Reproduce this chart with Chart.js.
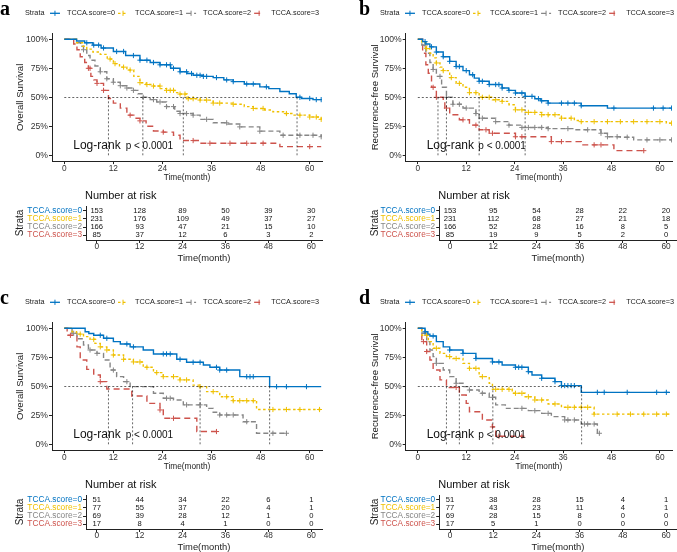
<!DOCTYPE html>
<html>
<head>
<meta charset="utf-8">
<script src="https://cdn.jsdelivr.net/npm/chart.js@4.4.0/dist/chart.umd.min.js"></script>
<style>
  html, body { margin: 0; padding: 0; background: #fff; overflow: hidden; }
  #wrap { position: relative; width: 677px; height: 552px; overflow: hidden; }
  canvas { position: absolute; }
</style>
</head>
<body>
<div id="wrap">
  <canvas id="kmA" width="337" height="185" style="left:0;top:0"></canvas>
  <canvas id="tabA" width="337" height="80" style="left:0;top:185px"></canvas>
  <canvas id="kmB" width="340" height="185" style="left:337px;top:0"></canvas>
  <canvas id="tabB" width="340" height="80" style="left:337px;top:185px"></canvas>
  <canvas id="kmC" width="337" height="185" style="left:0;top:289px"></canvas>
  <canvas id="tabC" width="337" height="80" style="left:0;top:474px"></canvas>
  <canvas id="kmD" width="340" height="185" style="left:337px;top:289px"></canvas>
  <canvas id="tabD" width="340" height="80" style="left:337px;top:474px"></canvas>
</div>
<script>
// ---- shared labels ----
const strata = ['TCCA.score=0', 'TCCA.score=1', 'TCCA.score=2', 'TCCA.score=3'];
const xTicks = [0, 12, 24, 36, 48, 60];
const yTicks = [0, 25, 50, 75, 100];

// ---- panel a: overall survival (training) ----
const a0t = [0, 3, 5, 7, 9, 12, 15, 18.5, 21, 23.4, 26, 28.3, 30, 31.5, 34, 36.4, 39, 41.3, 44, 47.8, 50, 52.7, 55, 56.7, 58, 60.8, 62.8];
const a0s = [100, 98.5, 97, 95, 92.5, 89.5, 86, 82, 80, 78, 75, 72, 70.5, 69, 68, 67, 65, 63.5, 61.5, 59, 57.5, 55, 53, 50, 49, 48, 48];
const a1t = [0, 3, 4.5, 5.5, 7, 8.8, 10.5, 12, 13.5, 15.3, 17, 18.5, 20, 21.8, 23.5, 25, 27, 28.3, 30, 33.2, 36.4, 41.3, 44, 46.2, 49, 51, 54, 56, 60, 62.8];
const a1s = [100, 97, 94, 91.5, 89, 87, 83, 79, 76, 73.5, 68, 62.6, 61, 59.7, 57.5, 56, 54, 52.8, 48.8, 47.6, 45, 44, 42, 40.4, 39, 37.5, 36, 34.6, 33, 31];
const a2t = [0, 3, 4, 4.7, 5.5, 6.3, 7.5, 8.8, 10.4, 12, 13.7, 15.3, 16.9, 18, 19.3, 21, 22.6, 25, 27, 28.3, 31.5, 33.2, 36.4, 40, 42.9, 47.8, 52.7, 62.8];
const a2s = [100, 97, 94, 91, 86, 82, 77, 72, 66, 63, 60, 58, 56, 53, 50, 48, 46, 42, 38, 36, 34.6, 31, 28, 27, 24.5, 20.8, 17.3, 16];
const a3t = [0, 2.3, 3.1, 3.9, 5, 5.9, 6.5, 7.2, 8, 9.6, 10.8, 12, 13.7, 15.3, 17, 18.5, 20, 21.8, 24.2, 26.7, 28.3, 33.2, 52.7, 62.8];
const a3s = [100, 96, 91, 85, 80, 75, 68, 65, 62, 56, 49, 45, 40.7, 34.6, 32, 29.7, 25, 21, 20, 17.3, 12.7, 10.4, 7.5, 7.5];
const a0c = [5.5, 7.2, 8.4, 9.6, 12.8, 14.5, 16.9, 18.5, 20.2, 21.8, 23.4, 25, 25.9, 26.7, 28.3, 29.9, 31.1, 32.4, 33.2, 34, 34.8, 37.2, 39.7, 41.3, 44.6, 46.2, 49.4, 57.6, 60, 61.6, 62.8];
const a1c = [11.2, 12.4, 14.5, 16.1, 18.5, 20.2, 21.8, 23.4, 25, 25.9, 26.7, 28.3, 29.5, 30.3, 31.5, 33.2, 34.8, 36.4, 38, 41.3, 46.2, 48.6, 54.3, 57.6, 60, 61.6, 62.8];
const a2c = [4.7, 8.8, 10.4, 12, 13.7, 15.3, 16.9, 19.3, 21.8, 23.4, 25, 26.7, 28.3, 29.9, 31.5, 34.8, 39.7, 42.9, 47.8, 53.5, 57.6, 60.8, 62.8];
const a3c = [5.9, 6.3, 8, 9.6, 16.1, 18.5, 24.2, 31.5, 35.6, 40.5, 44.6, 48.6, 60];
const aMedians = [10.8, 19.2, 29.1, 56.9];
const riskA = [[153, 128, 89, 50, 39, 30], [231, 176, 109, 49, 37, 27], [166, 93, 47, 21, 15, 10], [85, 37, 12, 6, 3, 2]];

// ---- panel b: recurrence-free survival (training) ----
const b0t = [0, 1.2, 2, 3, 4.6, 6.3, 7.9, 9.5, 11.2, 12.8, 14, 15.2, 17.7, 20.9, 22.5, 24.2, 26.6, 29, 30.5, 32.3, 40.5, 47, 63.3];
const b0s = [100, 98, 96, 93.5, 89, 85, 81, 76.5, 73, 69.5, 66.5, 63.8, 61, 58, 56, 53.7, 50.8, 48.8, 47, 45, 42.7, 40.7, 40.7];
const b1t = [0, 1, 2, 3, 3.8, 4.6, 5.5, 6.3, 7.9, 9.5, 11.2, 12.8, 15.2, 18.5, 20.9, 22.6, 24.2, 26.6, 30.7, 35.6, 38.8, 40.5, 61.6, 63.3];
const b1s = [100, 97, 92, 88, 84, 79.6, 76, 73, 67, 62, 58.6, 54, 50, 47.9, 46.5, 43.6, 39.2, 37, 35, 32, 30, 29, 27.7, 27.7];
const b2t = [0, 1, 2, 3, 3.8, 4.6, 5.9, 7.1, 8.7, 11.2, 14.4, 15.2, 19.3, 22.6, 25.8, 32.3, 38.8, 45.4, 47, 50.2, 53.5, 63.3];
const b2s = [100, 95, 88, 80, 74, 68, 58.6, 50, 44, 40.7, 36, 32, 29, 26, 24, 23, 22, 19, 16, 15.6, 13.3, 13.3];
const b3t = [0, 1.2, 2, 2.6, 3.4, 4.6, 6.3, 6.7, 7.9, 10.3, 12.8, 15.2, 17.7, 24.2, 33.1, 40.5, 48.6, 56];
const b3s = [100, 88, 78, 70.7, 58.6, 50, 46.5, 40.7, 35, 30.6, 26, 22, 19, 16, 11.8, 9, 4, 4];
const b0c = [1.8, 3.4, 4.6, 6.3, 7.9, 9.5, 10.3, 12, 13.6, 15.2, 16, 17.7, 19.3, 20.1, 20.9, 22.6, 24.2, 25.8, 26.6, 28.3, 29.9, 30.7, 32.3, 35.6, 37.2, 38.8, 40.5, 48.6, 58.4, 60.8, 62.9];
const b1c = [2.2, 4.6, 6.3, 8.3, 10.3, 12.8, 14.4, 16, 17.7, 19.3, 20.9, 24.2, 25.8, 27.4, 29, 30.7, 32.3, 34, 35.6, 38, 40.5, 43.7, 47, 50.2, 53.5, 56.8, 60, 62.9];
const b2c = [1.8, 3.8, 5.5, 7.1, 8.7, 10.3, 12, 14.4, 16, 19.3, 22.6, 25.8, 27.4, 29, 30.7, 32.3, 37.2, 42.1, 45.4, 47, 49.4, 51.9, 56.8, 60, 62.9];
const b3c = [3.8, 4.6, 7.1, 11.2, 14.4, 16.9, 18.5, 24.2, 25.8, 33.1, 35.6, 43.7, 45.4, 56];
const bMedians = [5.0, 7.1, 15.2, 26.6];
const riskB = [[153, 95, 54, 28, 22, 20], [231, 112, 68, 27, 21, 18], [166, 52, 28, 16, 8, 5], [85, 19, 9, 5, 2, 0]];

// ---- panel c: overall survival (validation) ----
const c0t = [0, 5.1, 6, 7.2, 9.6, 12, 13.7, 16.1, 19.3, 21.8, 27.5, 29.9, 34, 35.6, 38, 42.9, 50.2, 62.8];
const c0s = [100, 97, 95.5, 94, 91.4, 88.5, 86.5, 84, 81.3, 77.9, 73.3, 70.7, 68.4, 66.4, 64, 58.3, 49.7, 49.7];
const c1t = [0, 1.9, 3, 4.7, 6.3, 7.5, 8.8, 10.4, 12, 14.5, 16.9, 19.3, 21.8, 24.2, 28.3, 31.5, 33.2, 34.8, 38, 41.3, 47, 62.8];
const c1s = [100, 97, 95, 92.8, 90.5, 87, 84, 81.3, 77, 73.3, 71, 66.4, 61.8, 58.3, 55.5, 51, 49.7, 45.4, 41, 37.6, 30, 30];
const c2t = [0, 1.9, 3.1, 4.7, 5.9, 8, 9.6, 11.2, 12.8, 14.5, 16.1, 21.8, 24.2, 26.7, 29.1, 34.8, 36.4, 38, 43.7, 47, 54.3];
const c2s = [100, 95.7, 91, 85.6, 81.3, 78.4, 72.7, 64, 58.3, 54, 49.7, 44, 39.7, 38.2, 34, 31, 27.6, 25.3, 19.5, 9.5, 9.5];
const c3t = [0, 0.7, 3.1, 3.9, 5.5, 7.2, 8.8, 10.4, 16.5, 20.2, 23.4, 24.2, 32.4, 38];
const c3s = [100, 94, 84, 72.7, 64.6, 59.8, 54, 47.7, 41.7, 35.3, 29.6, 22.4, 11, 11];
const c0c = [8.8, 10.4, 15.3, 16.9, 24.2, 25, 25.9, 28.3, 31.5, 33.2, 37.2, 38, 39.7, 44.6, 45.4, 46.2, 51.9, 54.3, 59.2];
const c1c = [3.9, 7.2, 8.8, 10.4, 12, 14.5, 16.9, 18.5, 20.2, 22.6, 24.2, 26.7, 28.3, 29.9, 33.2, 36.4, 39.7, 41.3, 42.9, 44.6, 46.2, 51, 54.3, 57.6, 62.4];
const c2c = [2.3, 6.3, 8, 12, 15.3, 25, 25.9, 29.9, 33.2, 38, 39.7, 41.3, 44.6, 51, 54.3];
const c3c = [1.5, 8.8, 23.4, 26.7, 37.2];
const cMedians = [10.8, 16.7, 33.2, 50.2];
const riskC = [[51, 44, 34, 22, 6, 1], [77, 55, 37, 20, 4, 1], [69, 39, 28, 12, 1, 0], [17, 8, 4, 1, 0, 0]];

// ---- panel d: recurrence-free survival (validation) ----
const d0t = [0, 1.8, 2.5, 3, 4.6, 6.3, 7.9, 11.2, 14.4, 18.5, 20.9, 24.2, 27.4, 28.3, 30.7, 34, 35.6, 40.5, 62.5];
const d0s = [100, 97, 95, 93.4, 88.5, 84, 81.3, 78.4, 74, 71, 68.4, 66.4, 62.6, 59.8, 56.9, 54, 50.6, 44.8, 44.8];
const d1t = [0, 1, 2.6, 3.8, 5.5, 7.1, 8.7, 11.2, 12.8, 15.2, 17.7, 18.5, 23.4, 26.6, 29, 32.3, 35.6, 43.7, 62.9];
const d1s = [100, 94, 88.5, 82.8, 78.4, 75.6, 74, 69.8, 65.5, 58.3, 52.6, 47.4, 44, 41, 38.2, 34.8, 31.9, 26, 26];
const d2t = [0, 1, 2.2, 3, 3.8, 4.6, 6.3, 7.9, 9.5, 11.2, 12.8, 15.2, 17.7, 19.3, 21.7, 27.4, 30.7, 33.1, 36.4, 40.5, 44.5, 45];
const d2s = [100, 95.7, 88.5, 81.3, 75.6, 69.8, 64, 58.3, 52.6, 49.7, 46.8, 44, 40.5, 34, 31, 29, 26.7, 23.9, 21, 17.5, 9.5, 9.5];
const d3t = [0, 1, 2.2, 3, 3.8, 5.5, 7.1, 10.3, 12, 12.8, 16, 18.5, 19.3, 26.2];
const d3s = [100, 88.5, 80, 72.7, 64, 55.5, 49, 42.5, 35.3, 28, 21, 15, 7, 7];
const d0c = [1.8, 3.8, 7.9, 11.2, 14.4, 18.5, 20.1, 24.2, 25, 25.8, 27.4, 30.7, 34, 35.6, 36.4, 37.2, 38, 38.8, 44.5, 46.2, 51.9, 59.2, 61.6];
const d1c = [2.2, 4.6, 7.9, 9.5, 12.8, 14.4, 16, 19.3, 20.9, 22.6, 24.2, 25.8, 27.4, 29, 30.7, 34, 37.2, 38.8, 40.5, 42.1, 43.7, 49.4, 52.7, 56, 59.2, 61.6];
const d2c = [1.8, 4.6, 9.5, 12.8, 16, 18.5, 25.8, 29, 32.3, 36.4, 37.2, 38.8, 41.3, 42.1, 43.7, 45];
const d3c = [1.4, 2.2, 9.5, 18.5, 20.1, 25.8];
const dMedians = [7.1, 10.3, 18.6, 40.6];
const riskD = [[51, 38, 28, 15, 4, 1], [77, 43, 23, 11, 4, 1], [69, 28, 15, 8, 0, 0], [17, 5, 1, 0, 0, 0]];

// ---- styling ----
const FONT = "'Liberation Sans', Arial, sans-serif";
const COLORS = ['#0073C2', '#EFC000', '#868686', '#CD534C'];
const DASHES = [[], [2.5, 2.5], [5, 3], [6, 4]];
const INK = '#222';

// survival value of a step curve at time x (for placing censor ticks on the curve)
function survAt(t, s, x) {
  let v = s[0];
  for (let i = 0; i < t.length; i++) if (t[i] <= x) v = s[i];
  return v;
}

const kmDecor = {
  id: 'kmDecor',
  afterDraw(chart, args, o) {
    const ctx = chart.ctx;
    ctx.save();
    // panel letter
    ctx.fillStyle = '#000';
    ctx.font = "bold 20px 'Liberation Serif', 'Times New Roman', serif";
    ctx.textBaseline = 'alphabetic';
    ctx.textAlign = 'left';
    ctx.fillText(o.letter, o.letterX, 14.5);
    // legend
    ctx.font = '7.3px ' + FONT;
    ctx.textBaseline = 'middle';
    ctx.fillStyle = INK;
    let x = o.legendX;
    const ly = 13.3;
    ctx.fillText('Strata', x, ly);
    x += ctx.measureText('Strata').width + 5.5;
    for (let i = 0; i < 4; i++) {
      ctx.strokeStyle = COLORS[i];
      ctx.lineWidth = 1.3;
      ctx.setLineDash(DASHES[i]);
      ctx.beginPath(); ctx.moveTo(x, ly); ctx.lineTo(x + 10, ly); ctx.stroke();
      ctx.setLineDash([]);
      ctx.lineWidth = 1;
      ctx.beginPath(); ctx.moveTo(x + 5, ly - 2.6); ctx.lineTo(x + 5, ly + 2.6); ctx.stroke();
      x += 17;
      ctx.fillStyle = INK;
      ctx.fillText(strata[i], x, ly);
      x += ctx.measureText(strata[i]).width + 3;
    }
    // log-rank annotation, placed in data units
    const xs = chart.scales.x, ys = chart.scales.y;
    ctx.textBaseline = 'alphabetic';
    ctx.fillStyle = '#111';
    ctx.font = '12px ' + FONT;
    ctx.fillText('Log-rank', xs.getPixelForValue(2.2), ys.getPixelForValue(5.5));
    ctx.font = '10px ' + FONT;
    ctx.fillText('p < 0.0001', xs.getPixelForValue(15), ys.getPixelForValue(5.5));
    ctx.restore();
  }
};

function medianSeg(xv, yv) {
  return {
    data: [{ x: xv[0], y: yv[0] }, { x: xv[1], y: yv[1] }],
    borderColor: '#000', borderWidth: 0.6, borderDash: [2, 2], pointRadius: 0
  };
}

function buildKM(id, p) {
  const ds = [];
  const mMax = Math.max(...p.medians);
  ds.push(medianSeg([0, mMax], [50, 50]));
  p.medians.forEach(m => ds.push(medianSeg([m, m], [50, 0])));
  for (let i = 0; i < 4; i++) {
    const t = p.times[i], s = p.survs[i];
    ds.push({
      data: t.map((x, j) => ({ x: x, y: s[j] })),
      borderColor: COLORS[i], borderWidth: 1.4, borderDash: DASHES[i],
      stepped: 'before', pointRadius: 0
    });
    ds.push({
      data: p.cens[i].map(x => ({ x: x, y: survAt(t, s, x) })),
      showLine: false, pointStyle: 'cross', pointRadius: 2.6,
      borderColor: COLORS[i], pointBorderColor: COLORS[i], pointBorderWidth: 1
    });
  }
  new Chart(document.getElementById(id), {
    type: 'line',
    data: { datasets: ds },
    options: {
      responsive: false,
      animation: false,
      layout: { padding: { top: 33.5, left: 0, right: p.padR, bottom: 0 } },
      plugins: {
        legend: { display: false },
        tooltip: { enabled: false },
        kmDecor: { letter: p.letter, letterX: p.letterX, legendX: p.legendX }
      },
      scales: {
        x: {
          type: 'linear', min: -3, max: 63,
          afterBuildTicks: s => { s.ticks = xTicks.map(v => ({ value: v })); },
          afterFit: s => { s.height = 23.9; },
          grid: { drawOnChartArea: false, tickLength: 3, color: INK },
          border: { color: INK, width: 1 },
          ticks: { font: { family: FONT, size: 8.3, lineHeight: 1 }, color: '#333', padding: 0, maxRotation: 0, autoSkip: false },
          title: { display: true, text: 'Time(month)', font: { family: FONT, size: 8.3 }, color: INK, padding: { top: 0, bottom: 2 } }
        },
        y: {
          type: 'linear', min: -5, max: 105,
          afterBuildTicks: s => { s.ticks = yTicks.map(v => ({ value: v })); },
          afterFit: s => { s.width = p.leftW; },
          grid: { drawOnChartArea: false, tickLength: 3, color: INK },
          border: { color: INK, width: 1 },
          ticks: { font: { family: FONT, size: 8.6 }, color: '#333', padding: 1, autoSkip: false, callback: v => v + '%' },
          title: { display: true, text: p.yTitle, font: { family: FONT, size: 9.6 }, color: INK, padding: { top: p.titlePad } }
        }
      }
    },
    plugins: [kmDecor]
  });
}

const riskText = {
  id: 'riskText',
  afterDraw(chart, args, o) {
    const ctx = chart.ctx, xs = chart.scales.x, ys = chart.scales.y, ca = chart.chartArea;
    ctx.save();
    ctx.fillStyle = '#111';
    ctx.font = '11px ' + FONT;
    ctx.textBaseline = 'middle';
    ctx.textAlign = 'left';
    ctx.fillText('Number at risk', ca.left - 1, ca.top - 10);
    ctx.font = '7.6px ' + FONT;
    ctx.textAlign = 'center';
    chart.data.datasets[0].data.forEach(d => {
      ctx.fillText(String(d.n), xs.getPixelForValue(d.x), ys.getPixelForValue(d.y));
    });
    ctx.restore();
  }
};

function buildRisk(id, risk, leftW, padR, titlePad) {
  const pts = [];
  risk.forEach((row, r) => row.forEach((n, k) => pts.push({ x: xTicks[k], y: r + 1, n: n })));
  new Chart(document.getElementById(id), {
    type: 'scatter',
    data: { datasets: [{ data: pts, pointRadius: 0 }] },
    options: {
      responsive: false,
      animation: false,
      layout: { padding: { top: 21, left: 0, right: padR, bottom: 0 } },
      plugins: { legend: { display: false }, tooltip: { enabled: false } },
      scales: {
        x: {
          type: 'linear', min: -3, max: 63,
          afterBuildTicks: s => { s.ticks = xTicks.map(v => ({ value: v })); },
          afterFit: s => { s.height = 25; },
          grid: { drawOnChartArea: false, tickLength: 3, color: INK },
          border: { color: INK, width: 1 },
          ticks: { font: { family: FONT, size: 8.3, lineHeight: 1 }, color: '#333', padding: 0, maxRotation: 0, autoSkip: false },
          title: { display: true, text: 'Time(month)', font: { family: FONT, size: 9.4 }, color: INK, padding: { top: 0, bottom: 1.4 } }
        },
        y: {
          type: 'linear', reverse: true, min: 0.4, max: 4.6,
          afterBuildTicks: s => { s.ticks = [1, 2, 3, 4].map(v => ({ value: v })); },
          afterFit: s => { s.width = leftW; },
          grid: { drawOnChartArea: false, tickLength: 3, color: INK },
          border: { color: INK, width: 1 },
          ticks: {
            font: { family: FONT, size: 8.3 }, padding: 1, autoSkip: false,
            color: c => COLORS[c.index],
            callback: v => strata[v - 1]
          },
          title: { display: true, text: 'Strata', font: { family: FONT, size: 10 }, color: INK, padding: { top: titlePad } }
        }
      }
    },
    plugins: [riskText]
  });
}

buildKM('kmA', { letter: 'a', letterX: 0, legendX: 25, leftW: 52, padR: 15, titlePad: 14.2, yTitle: 'Overall Survival',
  times: [a0t, a1t, a2t, a3t], survs: [a0s, a1s, a2s, a3s], cens: [a0c, a1c, a2c, a3c], medians: aMedians });
buildKM('kmB', { letter: 'b', letterX: 22, legendX: 43, leftW: 68.7, padR: 0.7, titlePad: 32.2, yTitle: 'Recurrence-free Survival',
  times: [b0t, b1t, b2t, b3t], survs: [b0s, b1s, b2s, b3s], cens: [b0c, b1c, b2c, b3c], medians: bMedians });
buildKM('kmC', { letter: 'c', letterX: 0, legendX: 25, leftW: 52, padR: 15, titlePad: 14.2, yTitle: 'Overall Survival',
  times: [c0t, c1t, c2t, c3t], survs: [c0s, c1s, c2s, c3s], cens: [c0c, c1c, c2c, c3c], medians: cMedians });
buildKM('kmD', { letter: 'd', letterX: 22, legendX: 43, leftW: 68.7, padR: 0.7, titlePad: 32.2, yTitle: 'Recurrence-free Survival',
  times: [d0t, d1t, d2t, d3t], survs: [d0s, d1s, d2s, d3s], cens: [d0c, d1c, d2c, d3c], medians: dMedians });

buildRisk('tabA', riskA, 86, 15, 14);
buildRisk('tabB', riskB, 102.2, 0.2, 32);
buildRisk('tabC', riskC, 86, 15, 14);
buildRisk('tabD', riskD, 102.2, 0.2, 32);
</script>
</body>
</html>
